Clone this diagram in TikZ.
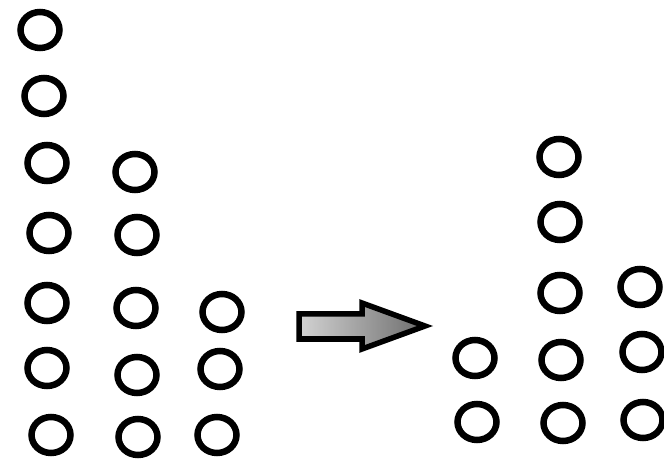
\documentclass[tikz,border=0pt]{standalone}
\usetikzlibrary{shapes.geometric}
\begin{document}
\begin{tikzpicture}[x=1pt,y=-1pt,
  ring/.style={ellipse,draw=black,line width=6.5pt,minimum width=39pt,minimum height=36pt,inner sep=0pt}]
\useasboundingbox[fill=white] (0,0) rectangle (664,462);
% left group
\node[ring] (a1) at (40,30) {};
\node[ring] (a2) at (44,96) {};
\node[ring] (a3) at (47,163) {};
\node[ring] (a4) at (49,233) {};
\node[ring] (a5) at (47,303) {};
\node[ring] (a6) at (47,368) {};
\node[ring] (a7) at (51,435) {};
\node[ring] (b1) at (135,172) {};
\node[ring] (b2) at (137,235) {};
\node[ring] (b3) at (136,308) {};
\node[ring] (b4) at (137,375) {};
\node[ring] (b5) at (138,437) {};
\node[ring] (c1) at (222,312) {};
\node[ring] (c2) at (220,369) {};
\node[ring] (c3) at (217,435) {};
% arrow
\draw[line width=5.5pt,line join=miter,left color=gray!35,right color=gray!85!black]
  (299,314) -- (362,314) -- (362,303) -- (425,326) -- (362,349) -- (362,339) -- (299,339) -- cycle;
% right group
\node[ring] (d1) at (475,358) {};
\node[ring] (d2) at (477,422) {};
\node[ring] (e1) at (559,157) {};
\node[ring] (e2) at (560,222) {};
\node[ring] (e3) at (560,293) {};
\node[ring] (e4) at (561,360) {};
\node[ring] (e5) at (563,423) {};
\node[ring] (f1) at (640,287) {};
\node[ring] (f2) at (642,352) {};
\node[ring] (f3) at (643,420) {};
\end{tikzpicture}
\end{document}
